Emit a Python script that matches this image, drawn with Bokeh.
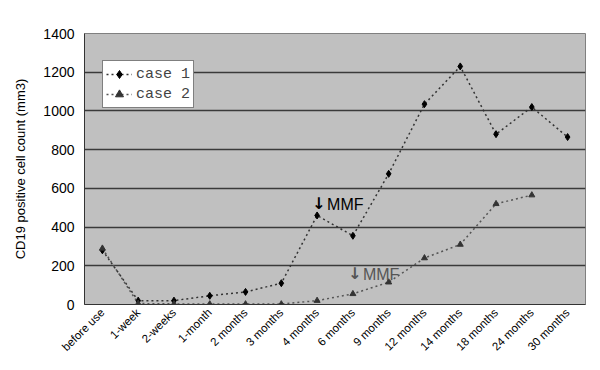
import math
from bokeh.plotting import figure
from bokeh.models import ColumnDataSource, Legend, LegendItem, Label, FactorRange, Range1d
from bokeh.embed import file_html
from bokeh.resources import INLINE

categories = ["before use", "1-week", "2-weeks", "1-month", "2 months", "3 months",
              "4 months", "6 months", "9 months", "12 months", "14 months",
              "18 months", "24 months", "30 months"]
case1 = [280, 20, 20, 45, 65, 110, 460, 355, 675, 1035, 1230, 880, 1020, 865]
case2_cats = categories[:13]
case2 = [290, 5, 3, 2, 2, 2, 20, 55, 115, 240, 310, 520, 565]
y_ticks = [0, 200, 400, 600, 800, 1000, 1200, 1400]

p = figure(x_range=FactorRange(*categories), y_range=Range1d(0, 1400),
           width=592, height=362, frame_width=501, frame_height=271,
           min_border_left=84, min_border_right=7, min_border_top=33, min_border_bottom=58,
           output_backend="svg", toolbar_location=None)
p.background_fill_color = "#c0c0c0"
p.border_fill_color = "white"
p.outline_line_color = "#808080"
p.xgrid.grid_line_color = None
p.ygrid.grid_line_color = "#3a3a3a"
p.ygrid.grid_line_width = 1.5
p.yaxis.ticker = y_ticks
p.yaxis.axis_line_color = "#333333"
p.xaxis.axis_line_color = "#333333"
p.yaxis.major_tick_out = 0
p.yaxis.major_tick_in = 0
p.yaxis.minor_tick_line_color = None
p.xaxis.major_tick_out = 0
p.xaxis.major_tick_in = 0
p.yaxis.major_label_text_font = "Liberation Sans"
p.yaxis.major_label_text_font_size = "14px"
p.yaxis.major_label_text_color = "black"
p.yaxis.major_label_standoff = 10
p.xaxis.major_label_text_font = "Liberation Sans"
p.xaxis.major_label_text_font_size = "11.5px"
p.xaxis.major_label_text_color = "black"
p.xaxis.major_label_orientation = math.pi / 4
p.xaxis.major_label_standoff = 6
p.yaxis.axis_label = "CD19 positive cell count (mm3)"
p.yaxis.axis_label_text_font = "Liberation Sans"
p.yaxis.axis_label_text_font_size = "13px"
p.yaxis.axis_label_text_font_style = "normal"
p.yaxis.axis_label_text_color = "black"
p.yaxis.axis_label_standoff = 12

s1 = ColumnDataSource(dict(x=categories, y=case1))
s2 = ColumnDataSource(dict(x=case2_cats, y=case2))

l1 = p.line("x", "y", source=s1, line_color="#333333", line_dash="2 3", line_width=1.5)
m1 = p.scatter("x", "y", source=s1, marker="diamond", size=7, color="black")
l2 = p.line("x", "y", source=s2, line_color="#555555", line_dash="2 3", line_width=1.5)
m2 = p.scatter("x", "y", source=s2, marker="triangle", size=6, color="#333333")

legend = Legend(items=[LegendItem(label="case 1", renderers=[l1, m1]),
                       LegendItem(label="case 2", renderers=[l2, m2])],
                location=(18, 196))
legend.label_text_font = "Liberation Mono"
legend.label_text_font_size = "15px"
legend.border_line_color = "black"
legend.border_line_width = 1
legend.background_fill_color = "white"
legend.background_fill_alpha = 1
legend.margin = 0
legend.padding = 3
legend.spacing = 0
legend.glyph_width = 26
legend.glyph_height = 20
legend.label_height = 20
legend.label_standoff = 4
p.add_layout(legend)

p.add_layout(Label(x=6.5, y=475, x_offset=-5, text="\u2193", text_font="DejaVu Sans",
                   text_font_size="16px", text_font_style="bold", text_color="black"))
p.add_layout(Label(x=6.5, y=475, x_offset=10, text="MMF", text_font="Liberation Sans",
                   text_font_size="16px", text_color="black"))
p.add_layout(Label(x=7.5, y=112, x_offset=-5, text="\u2193", text_font="DejaVu Sans",
                   text_font_size="16px", text_font_style="bold", text_color="#555555"))
p.add_layout(Label(x=7.5, y=112, x_offset=10, text="MMF", text_font="Liberation Sans",
                   text_font_size="16px", text_color="#555555"))

open("out.html", "w").write(file_html(p, INLINE))
